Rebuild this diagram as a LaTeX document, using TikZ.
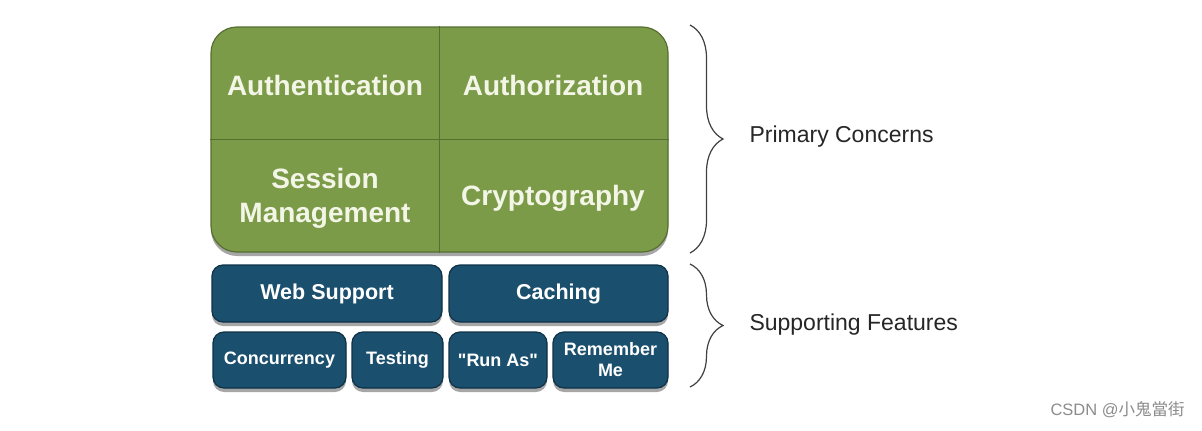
\documentclass[tikz,border=0pt]{standalone}
\usepackage{fontspec}
\setmainfont{Liberation Sans}
\newfontfamily\cjkfont{Noto Sans CJK TC}
\usetikzlibrary{shadows,decorations.pathreplacing}
\definecolor{concerngreen}{HTML}{7B9B48}
\definecolor{greenedge}{HTML}{566F30}
\definecolor{featureblue}{HTML}{1B4F6E}
\definecolor{blueedge}{HTML}{0F3247}
\definecolor{labeltext}{HTML}{F3F5E6}

\begin{document}
\begin{tikzpicture}[x=1pt,y=-1pt,
  boxshadow/.style={drop shadow={shadow xshift=0pt,shadow yshift=-4pt,opacity=0.35,fill=black}},
  corebox/.style={draw=greenedge,line width=1.2pt,fill=concerngreen,rounded corners=26pt,
    minimum width=457pt,minimum height=225pt,inner sep=0pt,boxshadow},
  coretext/.style={text=labeltext,font=\bfseries\fontsize{28}{34}\selectfont,align=center},
  featbox/.style={draw=blueedge,line width=1.2pt,fill=featureblue,rounded corners=11pt,
    inner sep=0pt,text=white,align=center,boxshadow},
  bigfeat/.style={featbox,minimum height=57pt,font=\bfseries\fontsize{21.5}{25}\selectfont},
  smallfeat/.style={featbox,minimum height=56pt,font=\bfseries\fontsize{18}{21}\selectfont},
  bracket/.style={draw=black!75,line width=1.2pt,decorate,decoration={brace,amplitude=33pt}},
  sidetext/.style={anchor=west,text=black!85,font=\fontsize{23}{27}\selectfont}]
\fill[white] (0,0) rectangle (1202,431);
\useasboundingbox (0,0) rectangle (1202,431);

% primary concerns
\node[corebox] (core) at (439.5,139.5) {};
\draw[greenedge,line width=1pt] (core.north) -- (core.south);
\draw[greenedge,line width=1pt] (core.west) -- (core.east);
\node[coretext] (authn) at (325,85) {Authentication};
\node[coretext] (authz) at (553,85) {Authorization};
\node[coretext] (session) at (325,198) {Session\\Management};
\node[coretext] (crypto) at (553,198) {Cryptography};

% supporting features
\node[bigfeat,minimum width=230pt] (web) at (327,293.5) {Web Support};
\node[bigfeat,minimum width=219pt] (cache) at (558.5,293.5) {Caching};
\node[smallfeat,minimum width=133pt] (conc) at (279.5,360) {Concurrency};
\node[smallfeat,minimum width=91pt] (test) at (397.5,360) {Testing};
\node[smallfeat,minimum width=98pt] (runas) at (498,360) {\textquotedbl Run As\textquotedbl};
\node[smallfeat,minimum width=115pt] (remember) at (610.5,360) {Remember\\Me};

% braces
\coordinate (pctop) at (690,25);
\coordinate (pcbot) at (690,253);
\coordinate (sftop) at (690,264);
\coordinate (sfbot) at (690,387);
\draw[bracket] (pctop) -- (pcbot);
\draw[bracket] (sftop) -- (sfbot);
\node[sidetext] (primary) at (746,137) {Primary Concerns};
\node[sidetext] (support) at (746,325) {Supporting Features};

\node[anchor=west,text=black!45,font=\fontsize{16.5}{20}\selectfont] (mark) at (1047,410) {CSDN @{\cjkfont 小鬼當街}};
\end{tikzpicture}
\end{document}
